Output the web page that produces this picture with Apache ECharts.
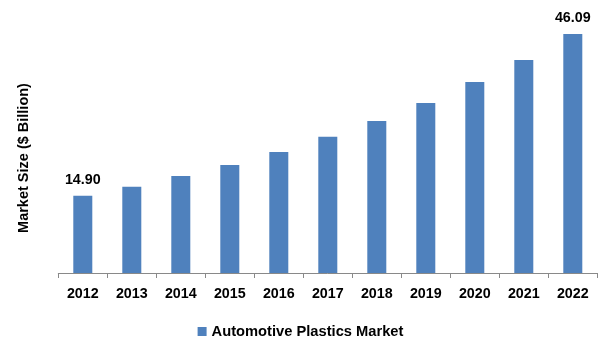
<!DOCTYPE html>
<html>
<head>
<meta charset="utf-8">
<script src="https://cdn.jsdelivr.net/npm/echarts@6/dist/echarts.min.js"></script>
<style>html,body{margin:0;padding:0;background:#fff;}#c{width:601px;height:361px;}</style>
</head>
<body>
<div id="c"></div>
<script>
var years = ['2012','2013','2014','2015','2016','2017','2018','2019','2020','2021','2022'];
var marketSize = [14.90, 16.64, 18.70, 20.83, 23.33, 26.28, 29.31, 32.78, 36.83, 41.07, 46.09];
var seriesName = 'Automotive Plastics Market';
var yTitle = 'Market Size ($ Billion)';
var labelledYears = ['2012', '2022'];

var chart = echarts.init(document.getElementById('c'), null, {renderer: 'canvas'});
var font = '"Liberation Sans", Arial, sans-serif';
chart.setOption({
  animation: false,
  backgroundColor: '#ffffff',
  grid: {left: 58.3, right: 3.7, top: 13.7, bottom: 88, containLabel: false},
  legend: {
    data: [seriesName],
    bottom: 17,
    left: 'center',
    itemWidth: 9, itemHeight: 9,
    itemGap: 4,
    icon: 'rect',
    textStyle: {fontFamily: font, fontWeight: 'bold', fontSize: 14.7, color: '#000'}
  },
  graphic: [{
    type: 'text',
    x: 23.5, y: 158,
    rotation: Math.PI / 2,
    style: {
      text: yTitle,
      fontFamily: font, fontWeight: 'bold', fontSize: 14.5, fill: '#000',
      align: 'center', verticalAlign: 'middle'
    }
  }],
  xAxis: {
    type: 'category',
    data: years,
    axisLine: {lineStyle: {color: '#898989', width: 1}},
    axisTick: {show: true, length: 5, lineStyle: {color: '#898989'}},
    axisLabel: {margin: 14, fontFamily: font, fontWeight: 'bold', fontSize: 14.3, color: '#000'}
  },
  yAxis: {
    type: 'value',
    min: 0, max: 50,
    show: false,
    splitLine: {show: false}
  },
  series: [{
    name: seriesName,
    type: 'bar',
    data: marketSize,
    barWidth: 19,
    itemStyle: {color: '#4F81BD'},
    label: {
      show: true,
      position: 'top',
      distance: 9,
      fontFamily: font, fontWeight: 'bold', fontSize: 14.3, color: '#000',
      formatter: function (p) {
        return labelledYears.indexOf(p.name) >= 0 ? p.value.toFixed(2) : '';
      }
    }
  }]
});
</script>
</body>
</html>
